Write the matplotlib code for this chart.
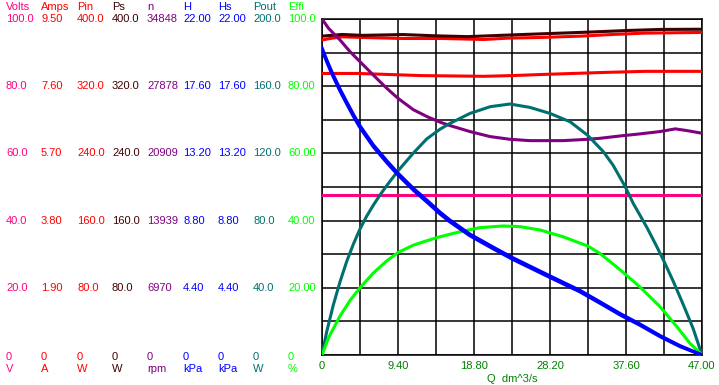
import matplotlib.pyplot as plt
from matplotlib.transforms import blended_transform_factory

# Flow rate axis (dm^3/s)
q_max = 47.0
q_ticks = [0, 9.4, 18.8, 28.2, 37.6, 47.0]
q_tick_labels = ['0', '9.40', '18.80', '28.20', '37.60', '47.00']

# Left scale columns: name, unit, tick labels (100%..20%)
col_names = ['Volts', 'Amps', 'Pin', 'Ps', 'n', 'H', 'Hs', 'Pout', 'Effi']
col_units = ['V', 'A', 'W', 'W', 'rpm', 'kPa', 'kPa', 'W', '%']
col_labels = [
    ['100.0', '80.0', '60.0', '40.0', '20.0'],
    ['9.50', '7.60', '5.70', '3.80', '1.90'],
    ['400.0', '320.0', '240.0', '160.0', '80.0'],
    ['400.0', '320.0', '240.0', '160.0', '80.0'],
    ['34848', '27878', '20909', '13939', '6970'],
    ['22.00', '17.60', '13.20', '8.80', '4.40'],
    ['22.00', '17.60', '13.20', '8.80', '4.40'],
    ['200.0', '160.0', '120.0', '80.0', '40.0'],
    ['100.0', '80.00', '60.00', '40.00', '20.00'],
]
col_colors = ['#ff0080', '#ff0000', '#ff0000', '#400000', '#800080',
              '#0000ff', '#0000ff', '#006f6f', '#00ff00']

# Curves
q_volts = [0, 47]
volts = [47.6, 47.6]

q_amps = [0, 4.5, 8.4, 12.3, 20, 23.5, 27, 31, 35, 40, 47]
amps = [7.96, 7.96, 7.93, 7.90, 7.88, 7.90, 7.93, 7.96, 7.99, 8.02, 8.02]

q_pin = [0, 1, 2.5, 5, 10, 15, 20, 23, 27, 32, 36, 40, 47]
pin = [375, 376.8, 378.8, 378, 376.8, 376.8, 375.6, 377.2, 378, 379.6, 381.6, 383.2, 384]

q_ps = [0, 2.5, 5, 10, 14, 18, 22, 25, 29, 33, 36, 38, 42, 47]
ps = [379.6, 381.6, 380.5, 381.5, 380, 379, 380.5, 381.6, 383, 384.4, 385.6, 386.4, 387.6, 387.8]

q_n = [0, 0.82, 2.23, 3.46, 4.7, 6.35, 8.0, 9.4, 11.3, 12.95, 14.6, 15.8, 18.3,
       20.8, 23.25, 25.7, 29.8, 32.9, 34.4, 36.9, 39.3, 41.8, 43.7, 45.1, 47]
n_rpm = [34848, 33872, 32670, 31468, 30423, 29029, 27669, 26623, 25439, 24742,
         24149, 23802, 23174, 22651, 22372, 22233, 22233, 22372, 22477, 22721,
         22930, 23174, 23453, 23279, 23000]

q_h = [0, 0.58, 1.2, 2.23, 3.05, 3.88, 4.7, 6.35, 8.0, 9.4, 11.3, 12.95, 14.6,
       15.8, 18.3, 21.2, 23.5, 28.2, 31.9, 34.4, 36.9, 39.3, 41.8, 44.3, 47]
head = [19.98, 19.21, 18.44, 17.29, 16.46, 15.64, 14.89, 13.64, 12.61, 11.79,
        10.80, 10.03, 9.24, 8.73, 7.81, 6.95, 6.29, 5.08, 4.14, 3.39, 2.62,
        1.96, 1.21, 0.55, 0]
head_s = [20.10, 19.32, 18.55, 17.40, 16.57, 15.75, 15.00, 13.75, 12.72, 11.90,
          10.91, 10.14, 9.35, 8.84, 7.91, 7.05, 6.39, 5.17, 4.23, 3.47, 2.70,
          2.03, 1.27, 0.60, 0]

q_pout = [0, 0.58, 1.40, 2.23, 3.05, 3.88, 4.7, 5.52, 6.35, 7.17, 8.0, 9.4, 11.3,
          12.95, 14.6, 15.8, 18.3, 20.8, 23.25, 25.7, 28.2, 30.7, 32.9, 34.8,
          36.0, 37.5, 38.5, 40.2, 41.4, 42.2, 43.45, 44.7, 45.9, 47]
pout = [0, 13.8, 29.8, 43.6, 55.6, 66.0, 75.0, 82.6, 89.2, 95.2, 100.8, 109.6,
        120.2, 128.6, 134.4, 137.8, 143.8, 147.8, 149.4, 147.4, 143.8, 138.8,
        130.6, 121.0, 113.0, 100.2, 90.2, 75.8, 64.6, 56.8, 43.8, 29.8, 15.8, 0]

q_eff = [0, 0.82, 2.23, 3.46, 4.7, 6.35, 8.0, 9.4, 11.3, 12.95, 14.6, 17.1, 19.5,
         22.4, 24.5, 27, 29.8, 32.9, 34.4, 36.9, 39.3, 41.8, 43.9, 45.5, 47]
effi = [0, 5.2, 11.6, 16.2, 20.0, 24.4, 28.0, 30.5, 32.7, 34.0, 35.2, 36.7,
        37.9, 38.4, 38.2, 37.2, 35.2, 32.4, 30.2, 25.3, 20.3, 14.4, 8.4, 3.5, 0]


def pct(vals, full):
    return [v / full * 100 for v in vals]


fig = plt.figure(figsize=(7.19, 3.85), dpi=100)
W, H = 719, 385
ax = fig.add_axes([322 / W, 1 - 355 / H, 380 / W, 336 / H])
ax.set_xlim(0, q_max)
ax.set_ylim(0, 100)

for i in range(11):
    ax.axvline(q_max * i / 10, color='black', lw=1.1, zorder=1)
    ax.axhline(i * 10, color='black', lw=1.1, zorder=1)
for s in ax.spines.values():
    s.set_linewidth(1.1)

ax.plot(q_volts, pct(volts, 100), color='#ff0080', lw=2.2, zorder=3)
ax.plot(q_amps, pct(amps, 9.5), color='#ff0000', lw=2.2, zorder=3)
ax.plot(q_pin, pct(pin, 400), color='#ff0000', lw=2.2, zorder=3)
ax.plot(q_ps, pct(ps, 400), color='#400000', lw=2.2, zorder=3)
ax.plot(q_n, pct(n_rpm, 34848), color='#800080', lw=2.2, zorder=3)
ax.plot(q_pout, pct(pout, 200), color='#006f6f', lw=2.2, zorder=3)
ax.plot(q_eff, pct(effi, 100), color='#00ff00', lw=2.2, zorder=3)
ax.plot(q_h, pct(head_s, 22), color='#0000ff', lw=2.4, zorder=4)
ax.plot(q_h, pct(head, 22), color='#0000ff', lw=2.4, zorder=4)

ax.set_xticks([])
ax.set_yticks([])

font = dict(family='Liberation Sans', fontsize=8)
for q, lab in zip(q_ticks, q_tick_labels):
    ax.text(q, -3.3, lab, color='#008000', ha='center', va='center', **font)
ax.text(q_max / 2, -7.2, 'Q  dm^3/s', color='#008000', ha='center', va='center', **font)

tr = blended_transform_factory(fig.transFigure, ax.transData)
col_x = [6, 41, 77, 112, 147, 183, 218, 253, 288]
levels = [100, 80, 60, 40, 20]
for x, name, unit, labs, c in zip(col_x, col_names, col_units, col_labels, col_colors):
    fx = x / W
    ax.text(fx, 100 + 3.6, name, color=c, transform=tr, ha='left', va='center', **font)
    for lv, lab in zip(levels, labs):
        ax.text(fx, lv, lab, color=c, transform=tr, ha='left', va='center', **font)
    ax.text(fx, -0.6, '0', color=c, transform=tr, ha='left', va='center', **font)
    ax.text(fx, -4.2, unit, color=c, transform=tr, ha='left', va='center', **font)

fig.savefig('out.png', dpi=100)
